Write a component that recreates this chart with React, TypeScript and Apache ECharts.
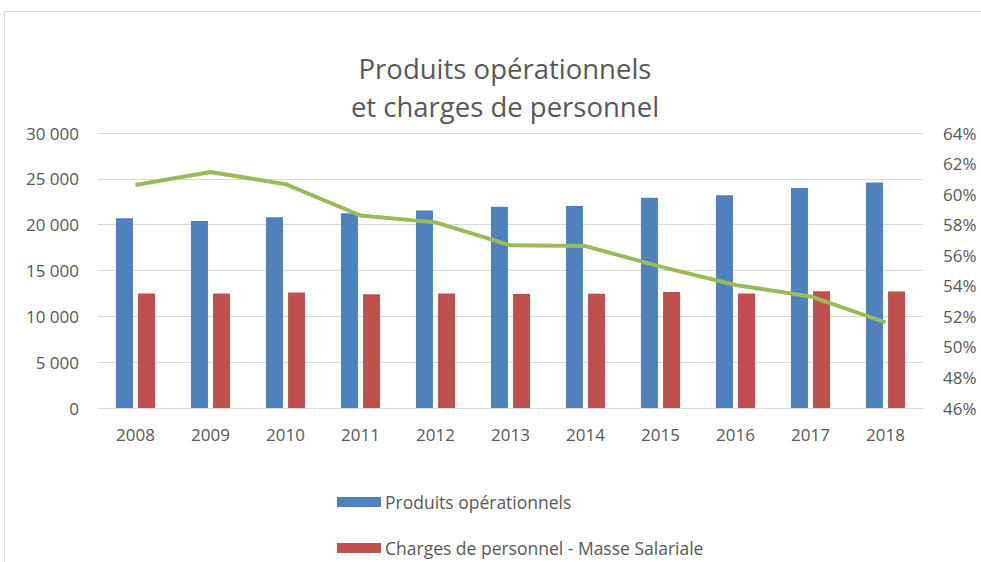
import React, { useEffect, useRef } from "react";
import * as echarts from "echarts";

const years = ["2008", "2009", "2010", "2011", "2012", "2013", "2014", "2015", "2016", "2017", "2018"];
const produits = [20700, 20400, 20800, 21250, 21550, 21950, 22050, 22950, 23200, 24000, 24600];
const charges = [12500, 12500, 12600, 12400, 12500, 12450, 12470, 12650, 12500, 12750, 12700];
const ratio = [60.6, 61.45, 60.65, 58.6, 58.15, 56.65, 56.6, 55.25, 54.05, 53.3, 51.6];

const grey = "#595959";
const font = "'Open Sans', sans-serif";

export default function App() {
  const ref = useRef<HTMLDivElement>(null);
  useEffect(() => {
    document.body.style.margin = "0";
    const chart = echarts.init(ref.current!, null, { renderer: "svg" });
    chart.setOption({
      animation: false,
      backgroundColor: "#ffffff",
      textStyle: { fontFamily: font },
      title: {
        text: "Produits opérationnels\net charges de personnel",
        left: 500,
        top: 44,
        textAlign: "center",
        textStyle: { fontSize: 27.5, fontWeight: "normal", color: grey, lineHeight: 38, fontFamily: font },
      },
      graphic: [
        { type: "line", shape: { x1: 4.5, y1: 11.5, x2: 981, y2: 11.5 }, style: { stroke: "#d9d9d9", lineWidth: 1 } },
        { type: "line", shape: { x1: 4.5, y1: 11.5, x2: 4.5, y2: 562 }, style: { stroke: "#d9d9d9", lineWidth: 1 } },
      ],
      legend: {
        data: ["Produits opérationnels", "Charges de personnel - Masse Salariale"],
        orient: "vertical",
        left: 332,
        top: 488,
        itemWidth: 44,
        itemHeight: 10,
        itemGap: 28,
        icon: "rect",
        textStyle: { fontSize: 17.5, color: grey, fontFamily: font, padding: [0, 0, 0, -1] },
      },
      grid: { left: 98, right: 58, top: 133, bottom: 154 },
      xAxis: {
        type: "category",
        data: years,
        axisTick: { show: false },
        axisLine: { lineStyle: { color: "#d9d9d9" } },
        axisLabel: { fontSize: 17, color: grey, margin: 18 },
      },
      yAxis: [
        {
          type: "value",
          min: 0,
          max: 30000,
          interval: 5000,
          axisLine: { show: false },
          axisTick: { show: false },
          splitLine: { lineStyle: { color: "#d9d9d9", width: 1 } },
          axisLabel: {
            fontSize: 17,
            color: grey,
            margin: 19,
            formatter: (v: number) => String(v).replace(/\B(?=(\d{3})+(?!\d))/g, " "),
          },
        },
        {
          type: "value",
          min: 46,
          max: 64,
          interval: 2,
          axisLine: { show: false },
          axisTick: { show: false },
          splitLine: { show: false },
          axisLabel: { fontSize: 17, color: grey, margin: 20, formatter: (v: number) => v + "%" },
        },
      ],
      series: [
        {
          name: "Produits opérationnels",
          type: "bar",
          data: produits,
          barWidth: 17,
          barGap: "30%",
          itemStyle: { color: "#4F81BD" },
        },
        {
          name: "Charges de personnel - Masse Salariale",
          type: "bar",
          data: charges,
          barWidth: 17,
          barGap: "30%",
          itemStyle: { color: "#C0504D" },
        },
        {
          name: "Ratio",
          type: "line",
          yAxisIndex: 1,
          data: ratio,
          symbol: "none",
          lineStyle: { color: "#9BBB59", width: 4 },
          itemStyle: { color: "#9BBB59" },
        },
      ],
    });
    return () => chart.dispose();
  }, []);
  return <div ref={ref} style={{ width: 981, height: 562 }} />;
}
